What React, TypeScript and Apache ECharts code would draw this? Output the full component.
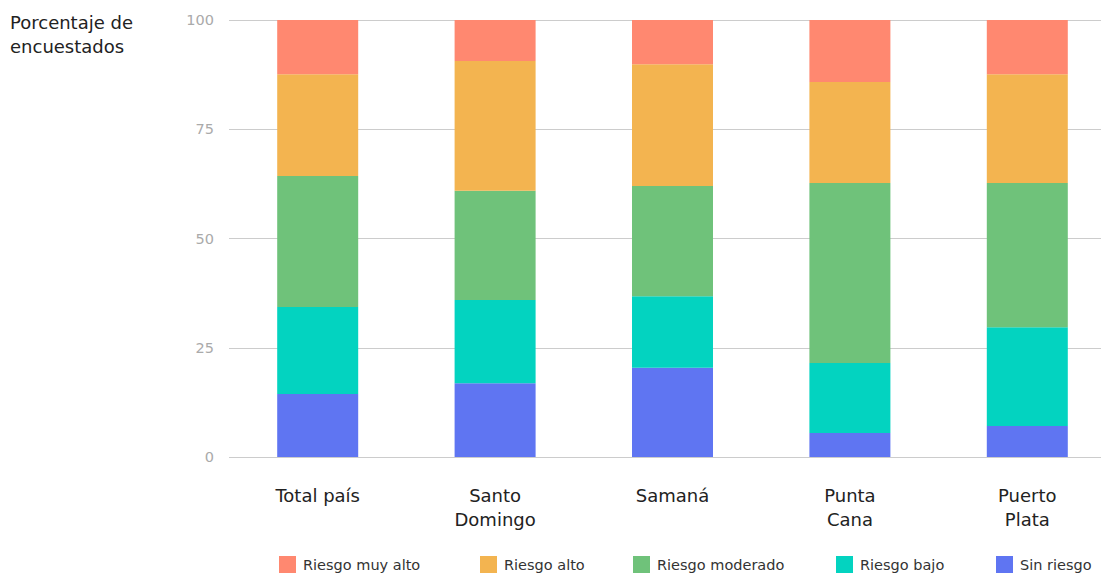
import React, { useEffect, useRef } from "react";
import * as echarts from "echarts";

const categories = ["Total país", "Santo\nDomingo", "Samaná", "Punta\nCana", "Puerto\nPlata"];
const sinRiesgo = [14.4, 16.9, 20.4, 5.5, 7.1];
const riesgoBajo = [19.9, 19.0, 16.4, 16.0, 22.6];
const riesgoModerado = [30.0, 25.0, 25.2, 41.2, 33.0];
const riesgoAlto = [23.3, 29.7, 27.9, 23.1, 24.9];
const riesgoMuyAlto = [12.4, 9.4, 10.1, 14.2, 12.4];
const yTicks = [0, 25, 50, 75, 100];
const legendNames = ["Riesgo muy alto", "Riesgo alto", "Riesgo moderado", "Riesgo bajo", "Sin riesgo"];
const titleLines = ["Porcentaje de", "encuestados"];

const FONT = "'DejaVu Sans', 'Open Sans', sans-serif";

export default function App() {
  const ref = useRef<HTMLDivElement>(null);
  useEffect(() => {
    if (!ref.current) return;
    const chart = echarts.init(ref.current, null, { renderer: "svg" });
    const mk = (name: string, data: number[], color: string) => ({
      name,
      type: "bar",
      stack: "total",
      barWidth: 81,
      data,
      itemStyle: { color },
      emphasis: { disabled: true },
    });
    const legendLefts = [279, 480, 633, 836, 996];
    chart.setOption({
      animation: false,
      textStyle: { fontFamily: FONT },
      grid: { left: 229, top: 20, width: 887, height: 437, containLabel: false },
      graphic: titleLines.map((t, i) => ({
        type: "text",
        left: 10,
        top: 12 + i * 24,
        style: {
          text: t,
          fontSize: 18,
          lineHeight: 21,
          fill: "#222",
          fontFamily: FONT,
        },
      })),
      legend: legendNames.map((n, i) => ({
        left: legendLefts[i],
        top: 556,
        padding: 0,
        itemWidth: 17,
        itemHeight: 17,
        icon: "rect",
        data: [n],
        textStyle: { fontSize: 14.5, lineHeight: 16, color: "#333", fontFamily: FONT, padding: [0, 0, 0, 2] },
        selectedMode: false,
      })),
      xAxis: {
        type: "category",
        data: categories,
        axisLine: { show: false },
        axisTick: { show: false },
        axisLabel: { fontSize: 18, lineHeight: 24, color: "#222", margin: 26, fontFamily: FONT },
      },
      yAxis: {
        type: "value",
        min: yTicks[0],
        max: yTicks[yTicks.length - 1],
        interval: 25,
        axisLabel: { fontSize: 14.5, color: "#aaa", margin: 15, fontFamily: FONT },
        splitLine: { lineStyle: { color: "#ccc", width: 1 } },
        axisLine: { show: false },
        axisTick: { show: false },
      },
      series: [
        mk("Sin riesgo", sinRiesgo, "#5F75F2"),
        mk("Riesgo bajo", riesgoBajo, "#03D3C0"),
        mk("Riesgo moderado", riesgoModerado, "#6FC27A"),
        mk("Riesgo alto", riesgoAlto, "#F3B450"),
        mk("Riesgo muy alto", riesgoMuyAlto, "#FF8870"),
      ],
    });
    return () => chart.dispose();
  }, []);
  return (
    <div style={{ position: "absolute", left: 0, top: 0, width: 1101, height: 574, overflow: "hidden", background: "#fff" }}>
      <div ref={ref} style={{ width: 1120, height: 574 }} />
    </div>
  );
}
